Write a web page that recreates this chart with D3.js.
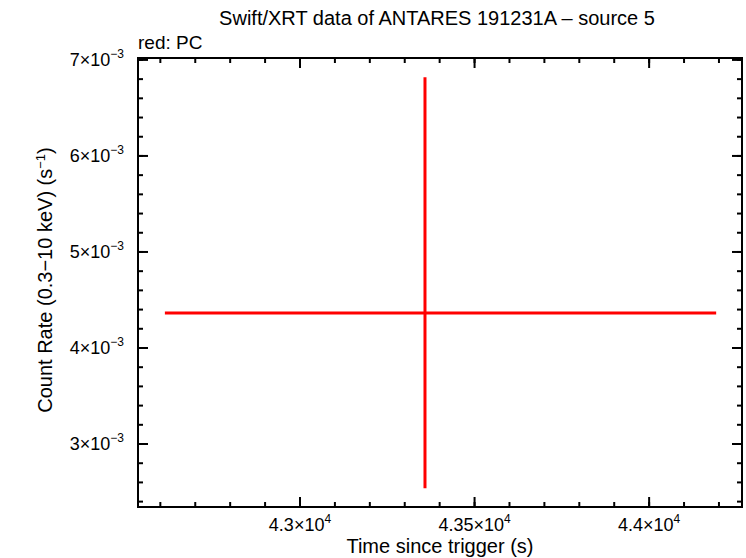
<!DOCTYPE html><html><head><meta charset="utf-8"><script src="https://d3js.org/d3.v7.min.js"></script>
<style>body{margin:0;background:#fff}</style></head><body><svg id="c" width="746" height="558"></svg>
<script>
const xMajor=[43000,43500,44000];
const xLabels=["4.3","4.35","4.4"];
const yMajor=[0.003,0.004,0.005,0.006,0.007];
const yLabels=["3","4","5","6","7"];
const pts=[{t:43358,tlo:42613,thi:44192,r:0.004365,rlo:0.00254,rhi:0.00682}];
const svg=d3.select("#c");
const L=138,R=742,T=58,B=507;
const x=d3.scaleLinear().domain([42536,44266]).range([L,R]);
const y=d3.scaleLinear().domain([0.002344,0.00702]).range([B,T]);
const g=svg.append("g");
const xMinor=d3.range(42600,44266,100), yMinor=d3.range(0.0024,0.00702,0.0002);
function tk(v,len,axis,side){
  if(axis==="x"){const X=x(v);g.append("line").attr("x1",X).attr("x2",X).attr("y1",side?T:B).attr("y2",side?T+len:B-len).attr("stroke","#000").attr("stroke-width",2);}
  else{const Y=y(v);g.append("line").attr("y1",Y).attr("y2",Y).attr("x1",side?R:L).attr("x2",side?R-len:L+len).attr("stroke","#000").attr("stroke-width",2);}
}
xMinor.forEach(v=>{tk(v,5,"x",0);tk(v,5,"x",1);});
xMajor.forEach(v=>{tk(v,10,"x",0);tk(v,10,"x",1);});
yMinor.forEach(v=>{tk(v,5,"y",0);tk(v,5,"y",1);});
yMajor.forEach(v=>{tk(v,10,"y",0);tk(v,10,"y",1);});
g.append("rect").attr("x",L).attr("y",T).attr("width",R-L).attr("height",B-T).attr("fill","none").attr("stroke","#000").attr("stroke-width",2);
const f="Liberation Sans, Arial, sans-serif";
xMajor.forEach((v,i)=>{const t=svg.append("text").attr("x",x(v)).attr("y",531).attr("text-anchor","middle").attr("font-family",f).attr("font-size",18);
 t.append("tspan").text(xLabels[i]+"×10");t.append("tspan").attr("dy",-8).attr("font-size",12).text("4");});
yMajor.forEach((v,i)=>{const t=svg.append("text").attr("x",124).attr("y",y(v)+6).attr("text-anchor","end").attr("font-family",f).attr("font-size",18);
 t.append("tspan").text(yLabels[i]+"×10");t.append("tspan").attr("dy",-8).attr("font-size",12).text("−3");});
svg.append("text").attr("x",440).attr("y",553).attr("text-anchor","middle").attr("font-family",f).attr("font-size",20).text("Time since trigger (s)");
const yl=svg.append("text").attr("transform","translate(52,280) rotate(-90)").attr("text-anchor","middle").attr("font-family",f).attr("font-size",20);
yl.append("tspan").text("Count Rate (0.3−10 keV) (s");yl.append("tspan").attr("dy",-7).attr("font-size",13).text("−1");yl.append("tspan").attr("dy",7).text(")");
svg.append("text").attr("x",437).attr("y",25).attr("text-anchor","middle").attr("font-family",f).attr("font-size",20).text("Swift/XRT data of ANTARES 191231A – source 5");
svg.append("text").attr("x",138).attr("y",49).attr("font-family",f).attr("font-size",19).text("red: PC");
pts.forEach(p=>{
 svg.append("line").attr("x1",x(p.tlo)).attr("x2",x(p.thi)).attr("y1",y(p.r)).attr("y2",y(p.r)).attr("stroke","#f00").attr("stroke-width",3);
 svg.append("line").attr("x1",x(p.t)).attr("x2",x(p.t)).attr("y1",y(p.rlo)).attr("y2",y(p.rhi)).attr("stroke","#f00").attr("stroke-width",3);
});
</script></body></html>
